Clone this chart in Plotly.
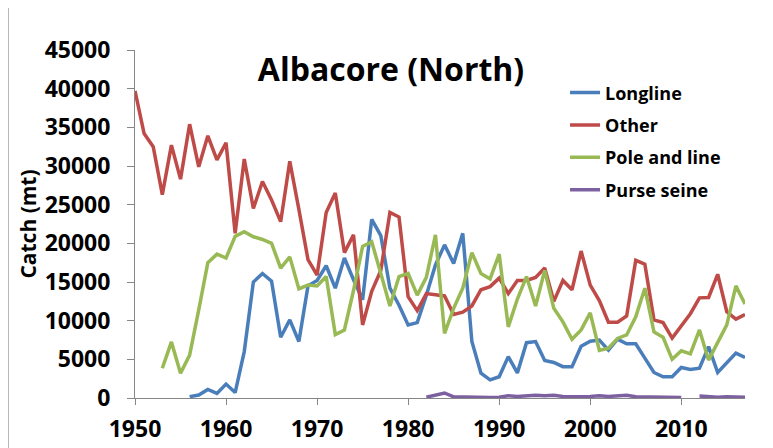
import plotly.graph_objects as go

years = list(range(1950, 2018))

longline = [None, None, None, None, None, None, 170, 390, 1100, 600,
            1800, 700, 6000, 15000, 16100, 15100, 7850, 10100, 7300, 14500,
            15200, 17100, 14200, 18100, 15300, 12700, 23100, 21000, 14200, 12000,
            9450, 9750, 13300, 17200, 19800, 17400, 21300, 7300, 3200, 2350,
            2750, 5350, 3250, 7150, 7300, 4850, 4600, 4050, 4050, 6700,
            7350, 7500, 6200, 7600, 7000, 7000, 5150, 3300, 2750, 2750,
            3950, 3700, 3850, 6650, 3300, 4550, 5800, 5250]

other = [39700, 34200, 32500, 26300, 32700, 28300, 35400, 29900, 33900, 30800,
         33000, 21300, 30900, 24500, 28000, 25600, 22800, 30600, 24400, 17900,
         15900, 24000, 26500, 18800, 21100, 9450, 13800, 16500, 24000, 23400,
         13100, 11300, 13500, 13300, 13200, 10800, 11100, 11900, 14000, 14400,
         15500, 13500, 15200, 15200, 15600, 16800, 12500, 15200, 14000, 19000,
         14600, 12600, 9800, 9800, 10600, 17800, 17300, 10100, 9750, 7750,
         9250, 10900, 12950, 13000, 16000, 11150, 10200, 10800]

pole_and_line = [None, None, None, 3850, 7250, 3200, 5550, 11400, 17500, 18600,
                 18100, 20900, 21500, 20850, 20500, 20000, 16800, 18250, 14100, 14600,
                 14500, 15700, 8200, 8800, 13900, 19600, 20200, 16100, 11900, 15700,
                 16100, 13300, 15600, 21100, 8350, 11600, 14200, 18800, 16100, 15400,
                 18600, 9200, 12800, 15700, 11900, 16500, 11600, 9850, 7600, 8800,
                 11000, 6150, 6450, 7700, 8150, 10500, 14200, 8550, 7850, 5000,
                 6100, 5700, 8800, 4900, 7150, 9450, 14500, 12150]

purse_seine = [None] * 32 + [100, 400, 650, 150, 100, 50, 100, 50,
                             100, 300, 200, 300, 350, 300, 350, 200, 150, 150,
                             200, 300, 200, 250, 350, 150, 150, 150, 100, 100,
                             50, None, 250, 150, 100, 150, 150, 100]

series = [
    ("Longline", longline, "#4A7EBB"),
    ("Other", other, "#BE4B48"),
    ("Pole and line", pole_and_line, "#98B954"),
    ("Purse seine", purse_seine, "#7D60A0"),
]

font_family = "Open Sans"

fig = go.Figure()
for name, values, color in series:
    fig.add_trace(go.Scatter(x=years, y=values, name="<b>%s</b>" % name, mode="lines",
                             line=dict(color=color, width=3.5),
                             legendgroup=name, connectgaps=False))

# the page body has an 8px margin, so the figure is 8px smaller and margins shifted
fig.update_layout(
    width=765, height=440,
    margin=dict(l=127, r=28, t=42, b=50, autoexpand=False),
    paper_bgcolor="white", plot_bgcolor="white",
    font=dict(family=font_family, color="black"),
    title=dict(text="<b>Albacore (North)</b>", x=383 / 765, xanchor="center",
               y=1 - 62 / 440, yanchor="middle", font=dict(size=32)),
    legend=dict(x=0.705, y=0.93, xanchor="left", yanchor="top",
                font=dict(size=18), tracegroupgap=6, bgcolor="rgba(0,0,0,0)"),
    showlegend=True,
)

fig.update_xaxes(range=[1950, 2017], tickvals=list(range(1950, 2020, 10)),
                 ticktext=["<b>%d</b>" % y for y in range(1950, 2020, 10)],
                 showline=True, linecolor="#868686", linewidth=1,
                 ticks="outside", ticklen=6, tickcolor="#868686", ticklabelstandoff=4,
                 showgrid=False, zeroline=False, tickfont=dict(size=23))

fig.update_yaxes(range=[0, 45000], tickvals=list(range(0, 50000, 5000)),
                 ticktext=["<b>%d</b>" % v for v in range(0, 50000, 5000)],
                 showline=True, linecolor="#868686", linewidth=1,
                 ticks="outside", ticklen=7, tickcolor="#868686", ticklabelstandoff=12,
                 showgrid=False, zeroline=False, tickfont=dict(size=23),
                 title=dict(text="<b>Catch (mt)</b>", font=dict(size=21), standoff=2))

# frame line of the chart area on the left
fig.add_shape(type="line", xref="paper", yref="paper",
              x0=(8 - 135) / 610, x1=(8 - 135) / 610, y0=-50 / 348, y1=1 + 42 / 348,
              line=dict(color="#A0A0A0", width=1.5))

fig.write_html("out.html")
